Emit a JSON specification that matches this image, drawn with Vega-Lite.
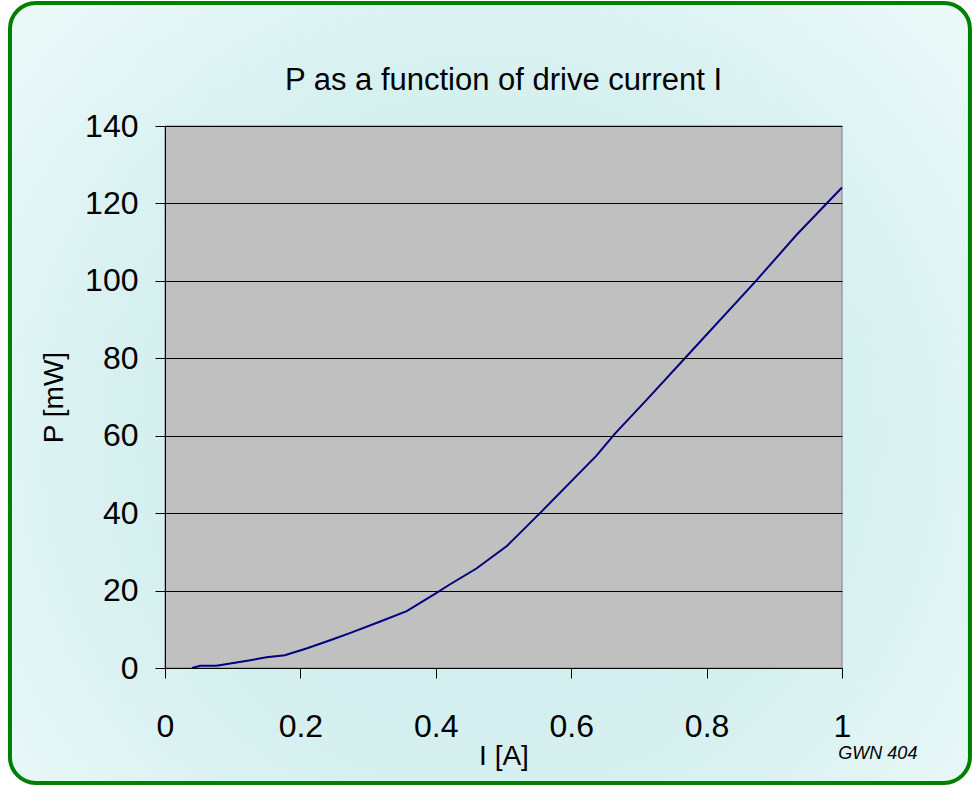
{
  "$schema": "https://vega.github.io/schema/vega-lite/v6.json",
  "width": 677,
  "height": 542,
  "autosize": {"type": "none"},
  "padding": {"left": 165, "top": 126, "right": 138, "bottom": 119},
  "background": "#ffffff",
  "config": {
    "font": "Liberation Sans",
    "view": {"fill": null, "stroke": null},
    "axis": {"labelFont": "Liberation Sans", "titleFont": "Liberation Sans", "labelColor": "#000000", "titleColor": "#000000", "titleFontWeight": "normal", "domainColor": "#000000", "tickColor": "#000000", "labelFlush": false}
  },
  "title": {"text": "P as a function of drive current I", "fontSize": 31, "fontWeight": "normal", "font": "Liberation Sans", "color": "#000000", "offset": -96, "anchor": "middle"},
  "layer": [
    {
      "data": {"values": [{}]},
      "mark": {"type": "rect", "clip": false, "stroke": "#008000", "strokeWidth": 4, "cornerRadius": 26,
        "fill": {"gradient": "radial", "x1": 0.5, "y1": 0.55, "r1": 0, "x2": 0.5, "y2": 0.55, "r2": 0.72,
          "stops": [{"offset": 0, "color": "#CDECEC"}, {"offset": 0.55, "color": "#D7F0F0"}, {"offset": 1, "color": "#F1FBFB"}]}},
      "encoding": {
        "x": {"datum": -0.229, "type": "quantitative"},
        "x2": {"datum": 1.189},
        "y": {"datum": 171.8, "type": "quantitative"},
        "y2": {"datum": -29.7}
      }
    },
    {
      "data": {"values": [{}]},
      "mark": {"type": "rect", "fill": "#C0C0C0", "stroke": "#808080", "strokeWidth": 1},
      "encoding": {
        "x": {"datum": 0, "type": "quantitative"},
        "x2": {"datum": 1},
        "y": {"datum": 0, "type": "quantitative"},
        "y2": {"datum": 140}
      }
    },
    {
      "data": {"values": [
        {"I": 0.04, "P": 0},
        {"I": 0.052, "P": 0.6},
        {"I": 0.076, "P": 0.6},
        {"I": 0.126, "P": 2.0},
        {"I": 0.15, "P": 2.8},
        {"I": 0.177, "P": 3.3},
        {"I": 0.21, "P": 5.1},
        {"I": 0.246, "P": 7.3},
        {"I": 0.273, "P": 9.0},
        {"I": 0.318, "P": 12.0},
        {"I": 0.357, "P": 14.7},
        {"I": 0.4, "P": 19.3},
        {"I": 0.42, "P": 21.5},
        {"I": 0.46, "P": 25.7},
        {"I": 0.505, "P": 31.5},
        {"I": 0.555, "P": 40.2},
        {"I": 0.637, "P": 54.8},
        {"I": 0.665, "P": 60.6},
        {"I": 0.71, "P": 69.0},
        {"I": 0.77, "P": 80.4},
        {"I": 0.874, "P": 100.2},
        {"I": 0.933, "P": 111.9},
        {"I": 1.0, "P": 124.1}
      ]},
      "mark": {"type": "line", "color": "#000080", "strokeWidth": 2},
      "encoding": {
        "x": {"field": "I", "type": "quantitative",
          "scale": {"domain": [0, 1], "nice": false, "zero": false},
          "axis": {"zindex": 1, "values": [0, 0.2, 0.4, 0.6, 0.8, 1], "format": ".1~f", "labelFontSize": 32, "tickSize": 10, "labelPadding": 33, "title": "I [A]", "titleFontSize": 28, "titlePadding": 0, "grid": false}},
        "y": {"field": "P", "type": "quantitative",
          "scale": {"domain": [0, 140], "nice": false},
          "axis": {"zindex": 1, "values": [0, 20, 40, 60, 80, 100, 120, 140], "labelFontSize": 32, "tickSize": 10, "labelPadding": 17, "title": "P [mW]", "titleFontSize": 28, "titlePadding": 16, "grid": true, "gridColor": "#000000", "gridOpacity": 1, "gridWidth": 1}}
      }
    },
    {
      "data": {"values": [{}]},
      "mark": {"type": "text", "clip": false, "text": "GWN 404", "fontStyle": "italic", "fontWeight": "normal", "fontSize": 18, "align": "center", "baseline": "alphabetic", "color": "#000000"},
      "encoding": {
        "x": {"datum": 1.053, "type": "quantitative"},
        "y": {"datum": -23.5, "type": "quantitative"}
      }
    }
  ]
}
